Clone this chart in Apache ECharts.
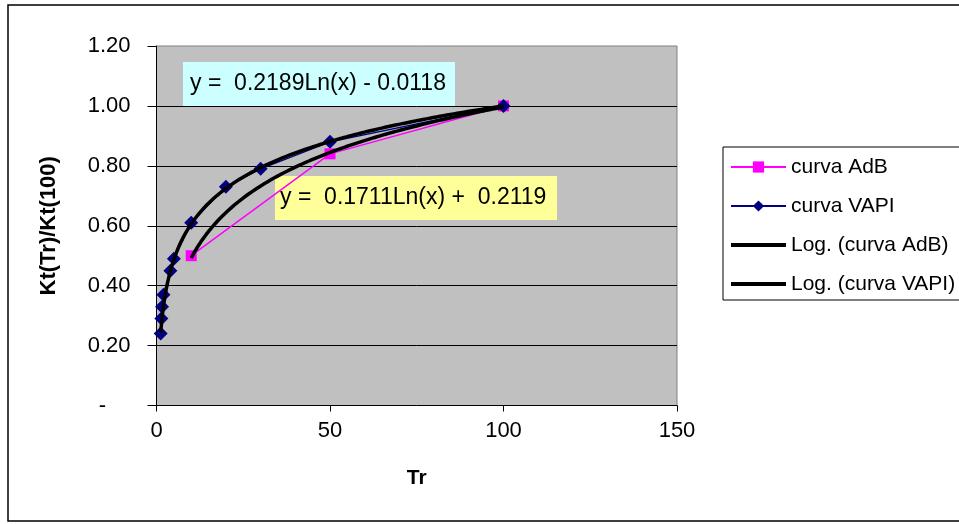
<!DOCTYPE html>
<html>
<head>
<meta charset="utf-8">
<script src="https://cdn.jsdelivr.net/npm/echarts@6/dist/echarts.min.js"></script>
<style>
  html, body { margin: 0; padding: 0; background: #ffffff; }
  #chart { width: 959px; height: 524px; }
</style>
</head>
<body>
<div id="chart"></div>
<script>
// Return period Tr and normalised growth factor Kt(Tr)/Kt(100)
const trAdB = [10, 50, 100];
const ktAdB = [0.50, 0.84, 1.00];

const trVapi = [1.2, 1.4, 1.6, 2, 4, 5, 10, 20, 30, 50, 100];
const ktVapi = [0.24, 0.29, 0.33, 0.37, 0.45, 0.49, 0.61, 0.73, 0.79, 0.88, 1.00];

// Logarithmic trendlines y = a*Ln(x) + b
const fitAdB = { a: 0.2189, b: -0.0118 };
const fitVapi = { a: 0.1711, b: 0.2119 };

const eqAdB = 'y =  0.2189Ln(x) - 0.0118';
const eqVapi = 'y =  0.1711Ln(x) +  0.2119';

const xTicks = { min: 0, max: 150, interval: 50 };
const yTicks = { min: 0, max: 1.2, interval: 0.2 };

const FONT = '"Liberation Sans", Arial, sans-serif';

// Thick bar legend icon for the trendlines (degenerate points keep the full item height)
const TREND_ICON = 'path://M0,0L0,0M0,5H55V9H0ZM0,14L0,14';

function pairs(xs, ys) { return xs.map((x, i) => [x, ys[i]]); }

// Trendline drawn across the x-range of its own data set
function trend(fit, xs) {
  const lo = Math.min(...xs), hi = Math.max(...xs);
  const pts = [];
  const n = 200;
  for (let i = 0; i <= n; i++) {
    const x = lo + (hi - lo) * i / n;
    pts.push([x, fit.a * Math.log(x) + fit.b]);
  }
  return pts;
}

const chart = echarts.init(document.getElementById('chart'));
chart.setOption({
  backgroundColor: '#ffffff',
  animation: false,
  textStyle: { fontFamily: FONT },
  grid: {
    left: 156.5, right: 282, top: 46, bottom: 118.5,
    show: true, backgroundColor: '#c0c0c0', borderColor: '#808080', borderWidth: 1
  },
  xAxis: {
    type: 'value', min: xTicks.min, max: xTicks.max, interval: xTicks.interval,
    name: 'Tr', nameLocation: 'middle', nameGap: 62,
    nameTextStyle: { fontFamily: FONT, fontSize: 21, fontWeight: 'bold', color: '#000' },
    axisLine: { show: true, lineStyle: { color: '#000', width: 1 } },
    axisTick: { show: true, length: 6, lineStyle: { color: '#000' } },
    axisLabel: { margin: 14, fontFamily: FONT, fontSize: 22, color: '#000' },
    splitLine: { show: false }
  },
  yAxis: {
    type: 'value', min: yTicks.min, max: yTicks.max, interval: yTicks.interval,
    name: 'Kt(Tr)/Kt(100)', nameLocation: 'middle', nameGap: 97, nameRotate: 90,
    nameTextStyle: { fontFamily: FONT, fontSize: 22, fontWeight: 'bold', color: '#000' },
    axisLine: { show: true, lineStyle: { color: '#000', width: 1 } },
    axisTick: { show: true, length: 9, inside: false, lineStyle: { color: '#000' } },
    axisLabel: {
      margin: 26, fontFamily: FONT, fontSize: 22, color: '#000',
      formatter: v => (v === 0 ? '-    ' : v.toFixed(2))
    },
    splitLine: { show: true, showMinLine: false, showMaxLine: false, lineStyle: { color: '#000', width: 1 } }
  },
  legend: {
    orient: 'vertical', left: 723, top: 147,
    backgroundColor: '#ffffff', borderColor: '#000', borderWidth: 1,
    padding: [9, 10, 5, 7],
    itemWidth: 55, itemHeight: 14, itemGap: 17,
    textStyle: { fontFamily: FONT, fontSize: 21, color: '#000', lineHeight: 22 },
    data: [
      { name: 'curva AdB' },
      { name: 'curva VAPI' },
      { name: 'Log. (curva AdB)', icon: TREND_ICON },
      { name: 'Log. (curva VAPI)', icon: TREND_ICON }
    ]
  },
  series: [
    {
      name: 'curva AdB', type: 'line', data: pairs(trAdB, ktAdB), z: 3,
      symbol: 'rect', symbolSize: 11,
      lineStyle: { color: '#ff00ff', width: 1.5 },
      itemStyle: { color: '#ff00ff' }
    },
    {
      name: 'curva VAPI', type: 'line', data: pairs(trVapi, ktVapi), z: 3,
      symbol: 'diamond', symbolSize: 14,
      lineStyle: { color: '#000080', width: 1.5 },
      itemStyle: { color: '#000080' }
    },
    {
      name: 'Log. (curva AdB)', type: 'line', data: trend(fitAdB, trAdB), z: 4,
      symbol: 'none', smooth: false,
      lineStyle: { color: '#000', width: 3.5 },
      itemStyle: { color: '#000' }
    },
    {
      name: 'Log. (curva VAPI)', type: 'line', data: trend(fitVapi, trVapi), z: 4,
      symbol: 'none', smooth: false,
      lineStyle: { color: '#000', width: 3.5 },
      itemStyle: { color: '#000' }
    }
  ],
  graphic: [
    {
      type: 'rect', z: 0, silent: true,
      shape: { x: 8, y: 5, width: 1000, height: 516 },
      style: { fill: 'none', stroke: '#000', lineWidth: 1.5 }
    },
    {
      type: 'group', left: 183, top: 62, z: 10,
      children: [
        { type: 'rect', shape: { x: 0, y: 0, width: 272, height: 44 }, style: { fill: '#ccffff' } },
        { type: 'text', x: 7, y: 22, style: { text: eqAdB, font: '23px ' + FONT, fill: '#000', textVerticalAlign: 'middle' } }
      ]
    },
    {
      type: 'group', left: 275, top: 176, z: 10,
      children: [
        { type: 'rect', shape: { x: 0, y: 0, width: 282, height: 44 }, style: { fill: '#ffff99' } },
        { type: 'text', x: 5, y: 22, style: { text: eqVapi, font: '23px ' + FONT, fill: '#000', textVerticalAlign: 'middle' } }
      ]
    }
  ]
});
</script>
</body>
</html>
